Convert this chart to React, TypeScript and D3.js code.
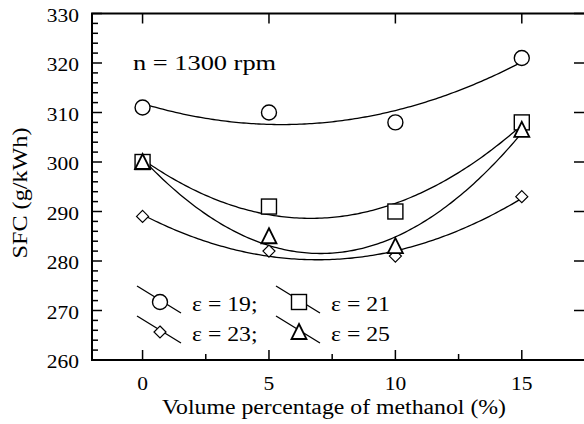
import React from "react";
import * as d3 from "d3";

const xValues = [0, 5, 10, 15];
const sfc19 = [311, 310, 308, 321];
const sfc21 = [300, 291, 290, 308];
const sfc23 = [289, 282, 281, 293];
const sfc25 = [300, 285, 283, 306.5];

const xTicks = [0, 5, 10, 15];
const xMinorTicks = [2.5, 7.5, 12.5];
const yTicks = [260, 270, 280, 290, 300, 310, 320, 330];
const yMinorTicks = d3.range(262, 330, 2).filter((v) => v % 10 !== 0);

const seriesNames = ["ε = 19;", "ε = 21", "ε = 23;", "ε = 25"];
const seriesMarkers = ["circle", "square", "diamond", "triangle"];
const seriesData = [sfc19, sfc21, sfc23, sfc25];

const W = 584;
const H = 424;
const FONT = "'Liberation Serif', 'Times New Roman', serif";

function quadFit(xs: number[], ys: number[]) {
  const n = xs.length;
  let s0 = n, s1 = 0, s2 = 0, s3 = 0, s4 = 0, t0 = 0, t1 = 0, t2 = 0;
  for (let i = 0; i < n; i++) {
    const x = xs[i], y = ys[i];
    s1 += x; s2 += x * x; s3 += x * x * x; s4 += x * x * x * x;
    t0 += y; t1 += x * y; t2 += x * x * y;
  }
  const M = [
    [s0, s1, s2, t0],
    [s1, s2, s3, t1],
    [s2, s3, s4, t2],
  ];
  for (let i = 0; i < 3; i++) {
    let p = i;
    for (let r = i + 1; r < 3; r++) if (Math.abs(M[r][i]) > Math.abs(M[p][i])) p = r;
    [M[i], M[p]] = [M[p], M[i]];
    for (let r = 0; r < 3; r++) {
      if (r === i) continue;
      const f = M[r][i] / M[i][i];
      for (let c = i; c < 4; c++) M[r][c] -= f * M[i][c];
    }
  }
  const a = M[0][3] / M[0][0];
  const b = M[1][3] / M[1][1];
  const c = M[2][3] / M[2][2];
  return (x: number) => a + b * x + c * x * x;
}

function Marker({ type, x, y }: { type: string; x: number; y: number }) {
  const common = { fill: "white", stroke: "black" };
  if (type === "circle") return <circle cx={x} cy={y} r={7.5} {...common} strokeWidth={1.4} />;
  if (type === "square")
    return <rect x={x - 7.5} y={y - 7.5} width={15} height={15} {...common} strokeWidth={1.4} />;
  if (type === "diamond")
    return (
      <path
        d={`M${x},${y - 6}L${x + 6},${y}L${x},${y + 6}L${x - 6},${y}Z`}
        {...common}
        strokeWidth={1.2}
      />
    );
  return (
    <path
      d={`M${x},${y - 8}L${x + 7.5},${y + 7}L${x - 7.5},${y + 7}Z`}
      {...common}
      strokeWidth={1.8}
      strokeLinejoin="miter"
    />
  );
}

function T({
  x,
  y,
  size,
  sx,
  anchor = "start",
  rotate = 0,
  children,
}: {
  x: number;
  y: number;
  size: number;
  sx: number;
  anchor?: string;
  rotate?: number;
  children: React.ReactNode;
}) {
  return (
    <text
      transform={`translate(${x},${y}) rotate(${rotate}) scale(${sx},1)`}
      textAnchor={anchor}
      fontSize={size}
      fontFamily={FONT}
      fill="black"
    >
      {children}
    </text>
  );
}

export default function App() {
  const x = d3.scaleLinear().domain([-2, 17.5]).range([92, 585]);
  const y = d3.scaleLinear().domain([260, 330]).range([360, 13.5]);
  const left = x(-2);
  const right = x(17.5);
  const top = y(330);
  const bottom = y(260);

  const fine = d3.range(0, 15.001, 0.1);
  const line = d3
    .line<[number, number]>()
    .x((d) => x(d[0]))
    .y((d) => y(d[1]));

  const legendPos = [
    { cx: 160, cy: 302, tx: 192 },
    { cx: 299, cy: 302, tx: 331 },
    { cx: 160, cy: 332, tx: 192 },
    { cx: 299, cy: 332, tx: 331 },
  ];

  return (
    <svg
      width={W}
      height={H}
      style={{ position: "absolute", left: 0, top: 0, background: "white" }}
    >
      <rect x={0} y={0} width={W} height={H} fill="white" />
      {seriesData.map((vals, i) => {
        const f = quadFit(xValues, vals);
        const pts = fine.map((v) => [v, f(v)] as [number, number]);
        return <path key={"c" + i} d={line(pts) || ""} fill="none" stroke="black" strokeWidth={1.3} />;
      })}
      {seriesData.map((vals, i) =>
        vals.map((v, j) => (
          <Marker key={`m${i}-${j}`} type={seriesMarkers[i]} x={x(xValues[j])} y={y(v)} />
        ))
      )}
      <rect x={left} y={top} width={right + 2 - left} height={bottom - top} fill="none" stroke="black" strokeWidth={2} />
      {xTicks.map((t) => (
        <g key={"xt" + t}>
          <line x1={x(t)} x2={x(t)} y1={bottom} y2={bottom - 10} stroke="black" strokeWidth={1.5} />
          <line x1={x(t)} x2={x(t)} y1={top} y2={top + 10} stroke="black" strokeWidth={1.5} />
          <T x={x(t)} y={390} size={19} sx={1.13} anchor="middle">
            {t}
          </T>
        </g>
      ))}
      {xMinorTicks.map((t) => (
        <line key={"xm" + t} x1={x(t)} x2={x(t)} y1={bottom} y2={bottom - 6} stroke="black" strokeWidth={1.5} />
      ))}
      {yTicks.map((t) => (
        <g key={"yt" + t}>
          <line x1={left} x2={left + 10} y1={y(t)} y2={y(t)} stroke="black" strokeWidth={1.5} />
          <line x1={right} x2={right - 11} y1={y(t)} y2={y(t)} stroke="black" strokeWidth={1.5} />
          <T x={79} y={y(t) + 8} size={19} sx={1.13} anchor="end">
            {t}
          </T>
        </g>
      ))}
      {yMinorTicks.map((t) => (
        <line key={"ym" + t} x1={left} x2={left + 6} y1={y(t)} y2={y(t)} stroke="black" strokeWidth={1.5} />
      ))}
      <T x={334} y={414} size={20.5} sx={1.16} anchor="middle">
        Volume percentage of methanol (%)
      </T>
      <T x={27} y={193} size={20.5} sx={1.18} anchor="middle" rotate={-90}>
        SFC (g/kWh)
      </T>
      <T x={133} y={70} size={22} sx={1.2}>
        n = 1300 rpm
      </T>
      {seriesNames.map((name, i) => {
        const p = legendPos[i];
        return (
          <g key={"lg" + i}>
            <line x1={p.cx - 23} y1={p.cy - 16} x2={p.cx + 21} y2={p.cy + 11} stroke="black" strokeWidth={1.3} />
            <Marker type={seriesMarkers[i]} x={p.cx} y={p.cy} />
            <T x={p.tx} y={p.cy + 8.5} size={22} sx={1.08}>
              {name}
            </T>
          </g>
        );
      })}
    </svg>
  );
}
